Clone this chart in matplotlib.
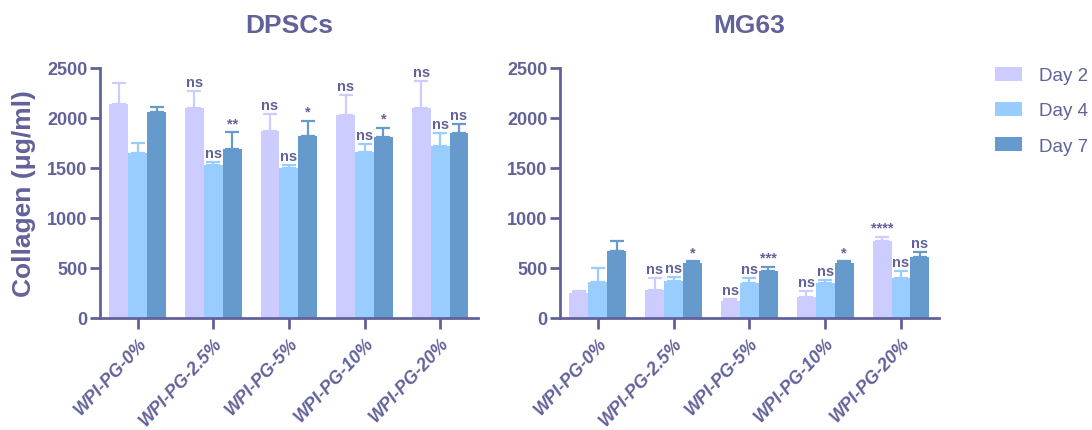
import matplotlib.pyplot as plt
import numpy as np

plt.rcParams['font.family'] = ['Liberation Sans', 'DejaVu Sans']

groups = ['WPI-PG-0%', 'WPI-PG-2.5%', 'WPI-PG-5%', 'WPI-PG-10%', 'WPI-PG-20%']
days = ['Day 2', 'Day 4', 'Day 7']
colors = ['#CCCCFF', '#99CCFF', '#6699CC']
ink = '#62629A'

# DPSCs: mean and upper error (sd) per day, one value per group
dpsc_mean = [
    [2140, 2100, 1873, 2030, 2097],
    [1647, 1533, 1500, 1657, 1720],
    [2057, 1690, 1817, 1807, 1853],
]
dpsc_err = [
    [207, 167, 167, 203, 276],
    [100, 24, 33, 83, 130],
    [56, 167, 156, 93, 90],
]
dpsc_sig = [
    ['', 'ns', 'ns', 'ns', 'ns'],
    ['', 'ns', 'ns', 'ns', 'ns'],
    ['', '**', '*', '*', 'ns'],
]

# MG63
mg63_mean = [
    [247, 283, 170, 210, 767],
    [357, 370, 347, 353, 400],
    [667, 547, 467, 547, 613],
]
mg63_err = [
    [26, 114, 20, 60, 46],
    [140, 43, 56, 24, 73],
    [106, 20, 46, 20, 44],
]
mg63_sig = [
    ['', 'ns', 'ns', 'ns', '****'],
    ['', 'ns', 'ns', 'ns', 'ns'],
    ['', '*', '***', '*', 'ns'],
]

fig = plt.figure(figsize=(10.92, 4.31), dpi=100)
ax1 = fig.add_axes([0.0916, 0.26, 0.346, 0.58])
ax2 = fig.add_axes([0.5128, 0.26, 0.347, 0.58])

x = np.arange(len(groups))
w = 0.25


def draw(ax, title, means, errs, sigs):
    for i in range(3):
        pos = x + (i - 1) * w
        m = np.array(means[i])
        e = np.array(errs[i])
        ax.bar(pos, m, width=w, color=colors[i], label=days[i], zorder=2)
        ax.errorbar(pos, m, yerr=[np.zeros_like(e), e], fmt='none',
                    ecolor=colors[i], elinewidth=1.6, capsize=5, capthick=1.6, zorder=1)
        for j in range(len(groups)):
            if sigs[i][j]:
                ax.annotate(sigs[i][j], (pos[j], m[j] + e[j]), xytext=(0, 1.5),
                            textcoords='offset points', ha='center', va='bottom',
                            fontsize=10.5, fontweight='bold', color=ink)
    ax.set_xlim(-0.5, 4.5)
    ax.set_ylim(0, 2500)
    ax.set_yticks([0, 500, 1000, 1500, 2000, 2500])
    ax.set_xticks(x)
    ax.set_xticklabels(groups, rotation=47, ha='right', rotation_mode='anchor',
                       fontsize=13, fontweight='bold', fontstyle='italic', color=ink)
    for lab in ax.get_yticklabels():
        lab.set_fontsize(13)
        lab.set_fontweight('bold')
        lab.set_color(ink)
    ax.spines['top'].set_visible(False)
    ax.spines['right'].set_visible(False)
    for s in ['left', 'bottom']:
        ax.spines[s].set_color(ink)
        ax.spines[s].set_linewidth(2)
    ax.tick_params(axis='x', length=8, width=2, color=ink, pad=4)
    ax.tick_params(axis='y', length=7, width=2, color=ink, pad=2)
    ax.set_title(title, fontsize=19, fontweight='bold', color=ink, pad=26)


draw(ax1, 'DPSCs', dpsc_mean, dpsc_err, dpsc_sig)
draw(ax2, 'MG63', mg63_mean, mg63_err, mg63_sig)
ax1.set_ylabel('Collagen (μg/ml)', fontsize=19, fontweight='bold', color=ink, labelpad=8)

handles, labels = ax1.get_legend_handles_labels()
fig.legend(handles, labels, loc='upper left', bbox_to_anchor=(0.904, 0.86),
           frameon=False, fontsize=13.5, labelcolor=ink, handlelength=1.45,
           handleheight=0.75, labelspacing=0.95, handletextpad=0.9,
           borderpad=0.2, borderaxespad=0.2)

fig.savefig('out.png', dpi=100)
